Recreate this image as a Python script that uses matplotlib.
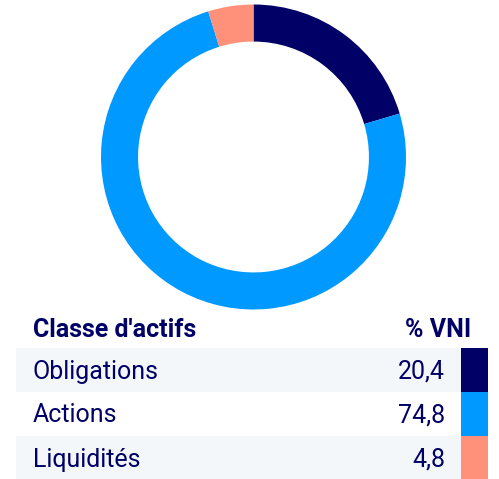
import matplotlib.pyplot as plt
from matplotlib.patches import Rectangle

categories = ['Obligations', 'Actions', 'Liquidités']
values = [20.4, 74.8, 4.8]
value_labels = ['20,4', '74,8', '4,8']
colors = ['#000066', '#0099FF', '#FF917A']
header = ["Classe d'actifs", '% VNI']

W, H = 499, 479
text_color = '#000066'
plt.rcParams['font.family'] = ['Roboto', 'DejaVu Sans']

fig = plt.figure(figsize=(W / 100, H / 100), dpi=100)

# donut
cx, cy, r = 253.5, 157, 152.5
ax = fig.add_axes([(cx - r) / W, (H - cy - r) / H, 2 * r / W, 2 * r / H])
ax.pie(values, colors=colors, startangle=90, counterclock=False,
       radius=1, wedgeprops=dict(width=0.243, linewidth=0))
ax.set_xlim(-1, 1)
ax.set_ylim(-1, 1)
ax.axis('off')

# table, in pixel coordinates
tb = fig.add_axes([0, 0, 1, 1])
tb.set_xlim(0, W)
tb.set_ylim(H, 0)
tb.axis('off')

tb.text(33, 330, header[0], fontsize=18, fontweight='bold',
        color=text_color, va='center', ha='left')
tb.text(471, 330, header[1], fontsize=18, fontweight='bold',
        color=text_color, va='center', ha='right')

row_top, row_h = 348, 44
for i, (cat, lab, col) in enumerate(zip(categories, value_labels, colors)):
    y0 = row_top + i * row_h
    if i % 2 == 0:
        tb.add_patch(Rectangle((16, y0), 445, row_h, facecolor='#F4F7F9',
                               edgecolor='none'))
    tb.add_patch(Rectangle((461, y0), 27, row_h, facecolor=col,
                           edgecolor='none'))
    tb.text(33, y0 + row_h / 2 + 1.5, cat, fontsize=18, color=text_color,
            va='center', ha='left')
    tb.text(445, y0 + row_h / 2 + 1.5, lab, fontsize=18, color=text_color,
            va='center', ha='right')

fig.savefig('out.png', dpi=100)
